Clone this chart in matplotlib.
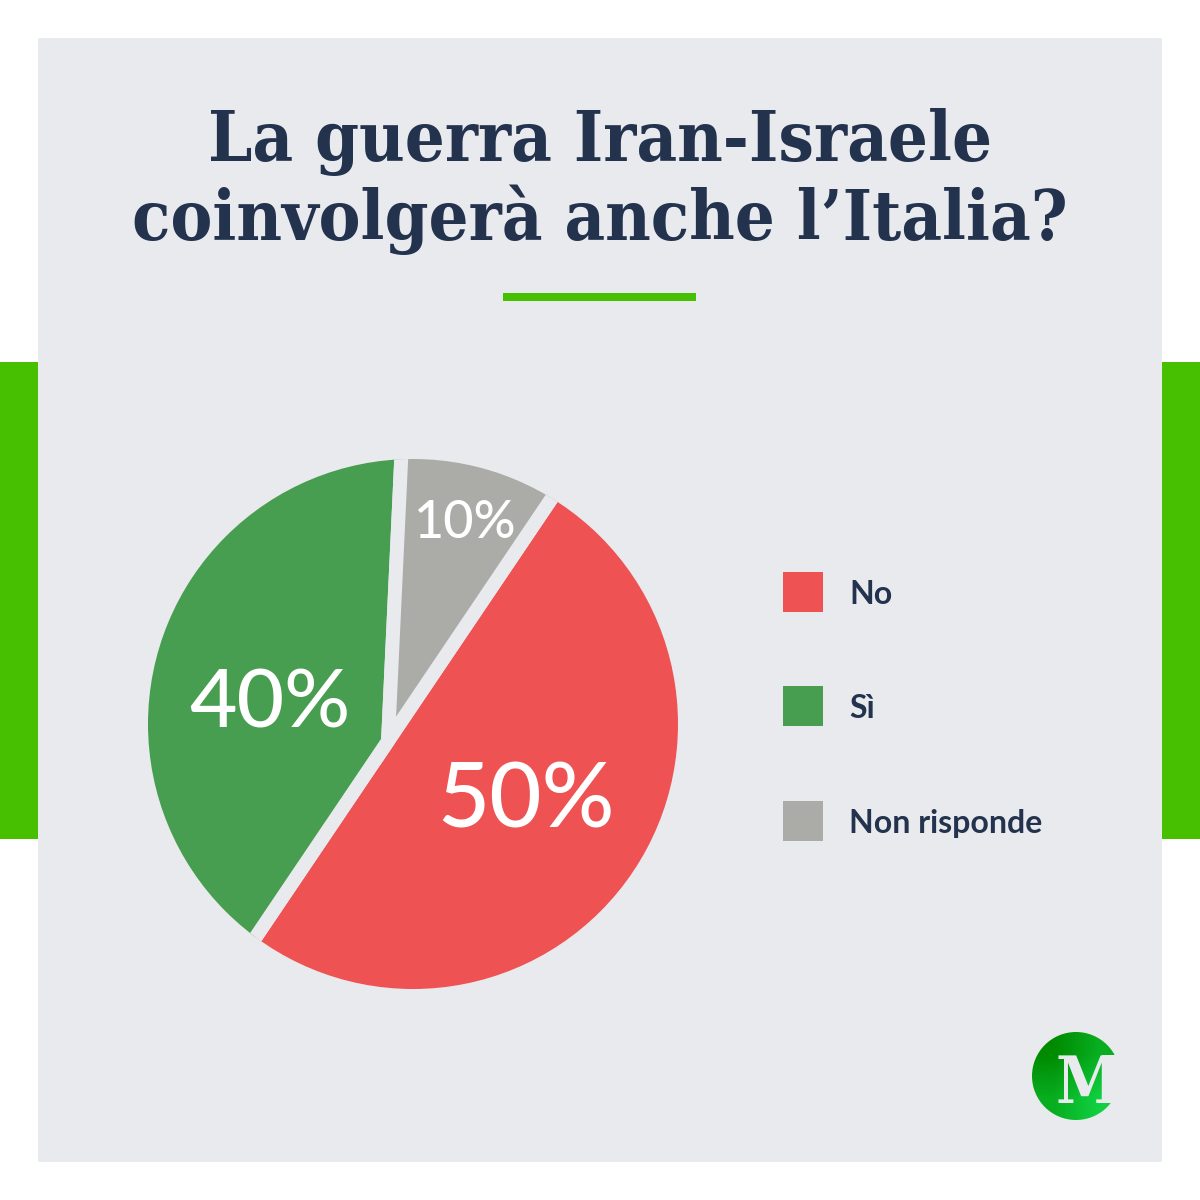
import numpy as np
import matplotlib.pyplot as plt
from matplotlib.colors import LinearSegmentedColormap
from matplotlib.patches import Rectangle, Circle

labels = ['No', 'Sì', 'Non risponde']
# slice sizes as measured in the picture (apex of the slices is off centre)
shares = [50, 41.3, 8.7]
colors = ['#EF5253', '#489E50', '#ABABA8']
pct_labels = ['50%', '40%', '10%']
title_lines = ['La guerra Iran-Israele', 'coinvolgerà anche l’Italia?']

panel = '#E9EAEE'
green = '#46C000'
navy = '#23324D'

fig = plt.figure(figsize=(12, 12), dpi=100, facecolor='white')
# whole figure in pixel coords, y going down like the reference
bg = fig.add_axes([0, 0, 1, 1])
bg.axis('off')

bg.add_patch(Rectangle((0, 362), 38, 477, color=green, lw=0))
bg.add_patch(Rectangle((1162, 362), 38, 477, color=green, lw=0))
bg.add_patch(Rectangle((38, 38), 1124, 1124, color=panel, lw=0))
bg.add_patch(Rectangle((503, 293), 193, 8, color=green, lw=0))

bg.text(600, 161, title_lines[0], ha='center', va='baseline', fontsize=50.4,
        fontweight='bold', family='DejaVu Serif', stretch='condensed', color=navy)
bg.text(600, 240, title_lines[1], ha='center', va='baseline', fontsize=50.4,
        fontweight='bold', family='DejaVu Serif', stretch='condensed', color=navy)

# legend
legend_y = [592, 706, 821]
for lab, c, y in zip(labels, colors, legend_y):
    bg.add_patch(Rectangle((783, y - 20), 40, 40, color=c, lw=0))
    bg.text(849, y + 2, lab, ha='left', va='center', fontsize=23, fontweight='bold',
            family='Lato', color=navy)

# logo, gradient circle with the M cut out of the right side
logo_cmap = LinearSegmentedColormap.from_list('logo', ['#008A00', '#10D040'])
img = bg.imshow([[0, 0.5], [0.5, 1]], cmap=logo_cmap, interpolation='bilinear',
                extent=(1032, 1120, 1120, 1032), aspect='auto', zorder=2)
img.set_clip_path(Circle((1076, 1076), 44, transform=bg.transData))
bg.text(1056, 1103, 'M', ha='left', va='baseline', fontsize=47, fontweight='bold',
        family='DejaVu Serif', stretch='condensed', color=panel, zorder=3)
bg.add_patch(Rectangle((1102, 1055), 22, 48, color=panel, lw=0, zorder=3))

bg.set_xlim(0, 1200)
bg.set_ylim(1200, 0)

# pie, y going up here, big wedges trimmed by the outer circle
ax = fig.add_axes([0, 0, 1, 1])
wedges, _ = ax.pie(shares, colors=colors, startangle=56, counterclock=False,
                   center=(388, 1200 - 741), radius=420,
                   wedgeprops=dict(edgecolor=panel, linewidth=10))
ax.set_xlim(0, 1200)
ax.set_ylim(0, 1200)
for w in wedges:
    w.set_clip_on(True)
    w.set_clip_path(Circle((413, 1200 - 724), 265, transform=ax.transData))

ax.text(526, 1200 - 802, pct_labels[0], ha='center', va='center', fontsize=65,
        color='white', family='Lato', fontweight='medium')
ax.text(270, 1200 - 704, pct_labels[1], ha='center', va='center', fontsize=59,
        color='white', family='Lato', fontweight='medium')
ax.text(465, 1200 - 524, pct_labels[2], ha='center', va='center', fontsize=37.5,
        color='white', family='Lato', fontweight='medium')

fig.savefig('out.png', dpi=100)
